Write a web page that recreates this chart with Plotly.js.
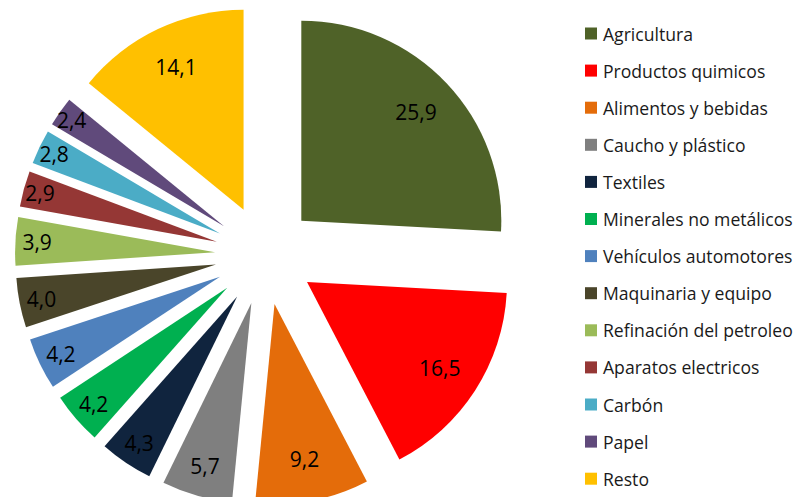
<!DOCTYPE html>
<html><head><meta charset="utf-8">
<script src="https://cdn.plot.ly/plotly-3.0.1.min.js"></script>
<style>html,body{margin:0;padding:0;overflow:hidden;background:#fff}</style>
</head><body>
<div id="chart" style="width:796px;height:510px"></div>
<script>
const labels = ["Agricultura","Productos quimicos","Alimentos y bebidas","Caucho y plástico","Textiles","Minerales no metálicos","Vehículos automotores","Maquinaria y equipo","Refinación del petroleo","Aparatos electricos","Carbón","Papel","Resto"];
const values = [25.9,16.5,9.2,5.7,4.3,4.2,4.2,4.0,3.9,2.9,2.8,2.4,14.1];
const colors = ["#4F6228","#FF0000","#E46C0A","#7F7F7F","#10243E","#00B050","#4F81BD","#4A452A","#9BBB59","#953735","#4BACC6","#604A7B","#FFC000"];

const W = 796, H = 510, T = 5, B = 5;
const font = "Open Sans, Liberation Sans, sans-serif";
const dom = {x: [15/W, 515/W], y: [0, 1]};

const pieTrace = {
  type: "pie",
  labels: labels,
  values: values,
  sort: false,
  direction: "clockwise",
  rotation: 0,
  pull: 0.25,
  marker: {colors: colors, line: {width: 0}},
  textinfo: "none",
  hoverinfo: "label+value",
  showlegend: false,
  domain: dom
};

// transparent ring on top, only to place the value labels further out in each slice
const labelTrace = {
  type: "pie",
  labels: labels,
  values: values,
  sort: false,
  direction: "clockwise",
  rotation: 0,
  pull: 0.25,
  hole: 0.58,
  marker: {colors: labels.map(() => "rgba(0,0,0,0)"), line: {width: 0}},
  texttemplate: "%{value:.1f}",
  textposition: "inside",
  insidetextorientation: "horizontal",
  textfont: {family: font, size: 21, color: "#000"},
  hoverinfo: "skip",
  showlegend: false,
  domain: dom
};

const shapes = [], annotations = [];
labels.forEach((lab, i) => {
  const yc = 33.5 + 37.1 * i;
  const py = 1 - (yc - T) / (H - T - B);
  const hs = 6 / (H - T - B);
  shapes.push({type: "rect", xref: "paper", yref: "paper",
    x0: 585/W, x1: 597/W, y0: py - hs, y1: py + hs,
    fillcolor: colors[i], line: {width: 0}});
  annotations.push({xref: "paper", yref: "paper", x: 601/W, y: py,
    xanchor: "left", yanchor: "middle", showarrow: false, text: lab,
    font: {family: font, size: 17.6, color: "#1a1a1a"}});
});

const layout = {
  width: W, height: H,
  margin: {l: 0, r: 0, t: T, b: B},
  paper_bgcolor: "#fff",
  separators: ",.",
  uniformtext: {minsize: 21, mode: "show"},
  shapes: shapes,
  annotations: annotations
};

Plotly.newPlot("chart", [pieTrace, labelTrace], layout, {displayModeBar: false});
</script>
</body></html>
